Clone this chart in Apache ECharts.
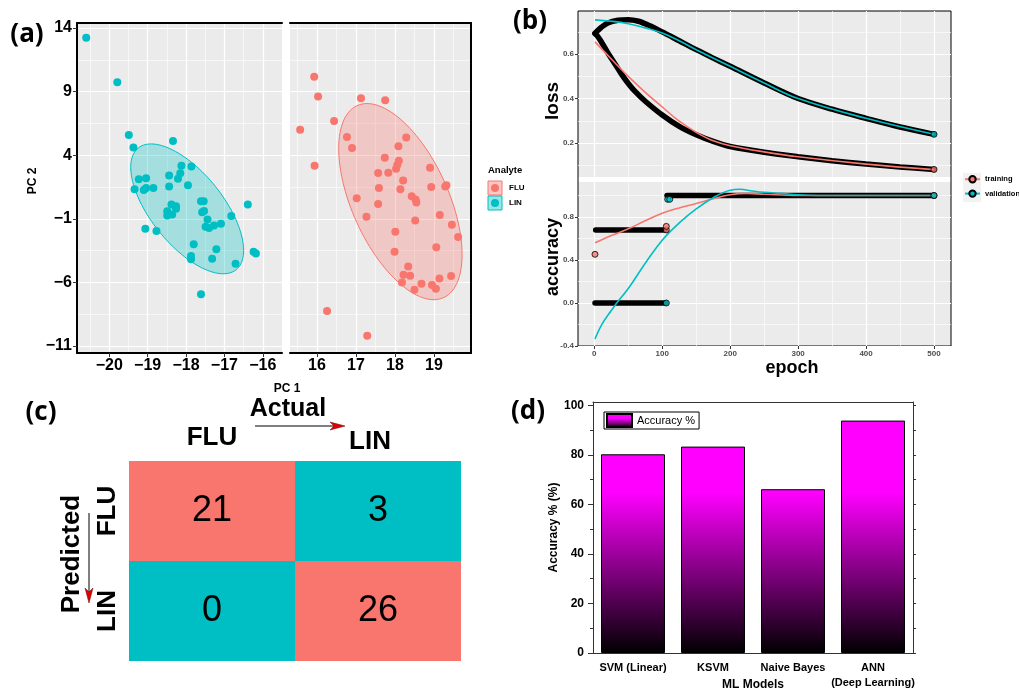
<!DOCTYPE html>
<html>
<head>
<meta charset="utf-8">
<script src="https://cdn.jsdelivr.net/npm/echarts@6/dist/echarts.min.js"></script>
<style>
html, body { margin: 0; padding: 0; background: #fff; }
#chart { width: 1019px; height: 689px; }
</style>
</head>
<body>
<div id="chart"></div>
<script>
// ---- (a) PCA scores ----
var linPoints = [[-20.6,13.24],[-19.79,9.73],[-19.49,5.59],[-19.37,4.6],[-18.34,5.12],[-19.23,2.1],
  [-19.04,2.18],[-19.34,1.32],[-19.1,1.27],[-19.04,1.42],[-18.85,1.42],[-18.44,2.41],[-18.44,1.53],
  [-18.12,3.17],[-18.15,2.57],[-18.21,2.15],[-17.86,3.11],[-17.95,1.63],[-18.38,0.12],[-18.26,-0.01],
  [-18.49,-0.4],[-18.49,-0.74],[-18.36,-0.66],[-18.26,-0.22],[-17.61,0.38],[-17.54,0.38],[-17.58,-0.48],
  [-17.53,-0.38],[-17.44,-1.05],[-17.49,-1.63],[-17.4,-1.73],[-17.27,-1.52],[-17.09,-1.39],[-16.82,-0.79],
  [-16.39,0.12],[-19.06,-1.78],[-18.77,-1.96],[-17.8,-3.0],[-17.87,-3.92],[-17.87,-4.18],[-17.21,-3.4],
  [-17.32,-4.15],[-16.71,-4.54],[-16.24,-3.6],[-16.18,-3.73],[-17.61,-6.94]];
var fluPoints = [[15.93,10.17],[16.03,8.61],[15.57,6.0],[15.94,3.17],[16.44,6.68],[17.13,8.48],[17.75,8.32],
  [16.77,5.43],[16.9,4.57],[18.29,5.38],[18.09,4.7],[17.74,3.79],[18.1,3.56],[18.06,3.22],[18.03,2.93],
  [17.57,2.59],[17.83,2.62],[18.21,2.0],[18.9,3.01],[17.59,1.42],[18.14,1.32],[18.93,1.5],[19.29,1.53],
  [19.32,1.63],[17.02,0.61],[17.57,0.17],[18.43,0.77],[18.53,0.51],[18.55,0.28],[17.27,-0.84],[18.52,-1.13],
  [19.15,-0.71],[19.46,-1.47],[18.01,-2.02],[19.62,-2.43],[19.06,-3.24],[17.99,-3.6],[18.34,-4.75],
  [18.22,-5.4],[18.39,-5.48],[19.44,-5.5],[19.14,-5.69],[18.18,-6.0],[18.68,-6.1],[18.95,-6.21],
  [19.05,-6.5],[18.5,-6.57],[16.26,-8.24],[17.29,-10.19]];
// ellipse: centre x, centre y, var x, var y, cov xy
var linEllipse = [-17.97, -0.22, 2.161, 26.05, -4.8];
var fluEllipse = [18.14, 0.35, 2.5, 59.42, -6.59];
var pc2Ticks = [-11, -6, -1, 4, 9, 14];
var pc2Minor = [-8.5, -3.5, 1.5, 6.5, 11.5];
var pc1LeftTicks = [-20, -19, -18, -17, -16];
var pc1LeftMinor = [-20.5, -19.5, -18.5, -17.5, -16.5];
var pc1RightTicks = [16, 17, 18, 19];
var pc1RightMinor = [15.5, 16.5, 17.5, 18.5, 19.5];

// ---- (b) training history ----
var lossTrainPts = [[1,0.693],[5,0.68],[10,0.657],[20,0.605],[30,0.558],[40,0.51],[50,0.468],[60,0.432],
  [75,0.388],[100,0.326],[125,0.275],[150,0.237],[175,0.207],[200,0.184],[250,0.158],[300,0.138],
  [350,0.12],[400,0.105],[450,0.092],[500,0.081]];
var lossValPts = [[1,0.693],[5,0.706],[10,0.72],[20,0.74],[35,0.752],[50,0.755],[65,0.748],[80,0.73],
  [100,0.7],[125,0.66],[150,0.62],[175,0.582],[200,0.545],[250,0.47],[300,0.4],[350,0.352],[400,0.311],
  [450,0.272],[500,0.239]];
var lossTrainSmooth = [[1,0.655],[25,0.578],[50,0.5],[75,0.428],[100,0.362],[125,0.298],[150,0.248],
  [175,0.21],[200,0.188],[250,0.16],[300,0.138],[400,0.105],[500,0.08]];
var lossValSmooth = [[1,0.754],[25,0.748],[50,0.737],[75,0.718],[100,0.695],[125,0.66],[150,0.62],
  [200,0.545],[250,0.47],[300,0.4],[400,0.311],[500,0.239]];
var lossTrainEnd = [[500,0.081]];
var lossValEnd = [[500,0.239]];
var accTrainLow = [[2,0.68],[105,0.68]];
var accValLow = [[1,0],[105,0]];
var accHigh = [[107,1],[500,1]];
var accTrainMarks = [[1,0.453],[106,0.68],[106,0.713],[500,1]];
var accValMarks = [[106,0],[108,0.965],[111,0.965],[500,1]];
var accTrainSmooth = [[1,0.56],[25,0.628],[50,0.69],[75,0.765],[100,0.835],[125,0.885],[150,0.925],
  [175,0.97],[200,1.008],[225,1.02],[250,1.012],[300,1.0],[400,1.0],[500,1.0]];
var accValSmooth = [[1,-0.335],[12,-0.19],[25,-0.07],[33,0],[50,0.135],[75,0.37],[100,0.585],[125,0.745],
  [150,0.875],[175,0.98],[200,1.05],[215,1.058],[230,1.045],[250,1.03],[275,1.02],[300,1.008],[350,1.0],[500,1.0]];
var epochTicks = [0, 100, 200, 300, 400, 500];
var epochMinor = [50, 150, 250, 350, 450];
var lossTicks = [0.2, 0.4, 0.6];
var lossMinor = [0.1, 0.3, 0.5, 0.7];
var accTicks = [-0.4, 0, 0.4, 0.8];
var accMinor = [-0.2, 0.2, 0.6, 1.0];

// ---- (c) confusion matrix ----
var cmActual = ['FLU', 'LIN'];
var cmPredicted = ['FLU', 'LIN'];
var cmCounts = [[21, 3], [0, 26]]; // rows: predicted, cols: actual

// ---- (d) model accuracy ----
var models = ['SVM (Linear)', 'KSVM', 'Naive Bayes', 'ANN\n(Deep Learning)'];
var accuracy = [80.2, 83.3, 66.1, 93.8];
var accPctTicks = [0, 20, 40, 60, 80, 100];
var accPctMinor = [10, 30, 50, 70, 90];
var accPctAll = [0, 10, 20, 30, 40, 50, 60, 70, 80, 90, 100];

var FONT = 'Liberation Sans, Arial, sans-serif';
var RED = '#F8766D', CYAN = '#00BFC4';
// axis indices of each panel (x and y share the same number)
var AX_A1 = 0, AX_A2 = 2, AX_LOSS = 4, AX_ACC = 6, AX_CM = 9, AX_BAR = 10;

function minus(v) { return v < 0 ? '\u2212' + Math.abs(v) : String(v); }

function valAxis(gi, pos, min, max, ticks, o) {
    o = o || {};
    return {
        type: 'value', gridIndex: gi, position: pos, min: min, max: max,
        axisLine: { show: !!o.line, onZero: false, lineStyle: { color: o.lineColor || '#000', width: o.lineWidth || 2 } },
        axisTick: { show: !!o.tick, customValues: ticks, length: o.tickLen || 4,
            lineStyle: { color: o.tickColor || '#333', width: o.tickWidth || 1 } },
        axisLabel: { show: !!o.label, customValues: ticks, margin: o.margin || 4, fontFamily: FONT,
            fontSize: o.fontSize || 16, fontWeight: 'bold', color: o.labelColor || '#000', formatter: o.formatter },
        splitLine: { show: !!o.split, lineStyle: { color: '#fff', width: o.splitWidth || 1.2 } },
        name: o.name, nameLocation: 'middle', nameGap: o.nameGap,
        nameTextStyle: { fontFamily: FONT, fontSize: 12, fontWeight: 'bold', color: '#000' }
    };
}

function ellipseSeries(name, e, color, fill, ax) {
    return {
        type: 'custom', name: name, xAxisIndex: ax, yAxisIndex: ax, z: 1, silent: true,
        data: [e],
        renderItem: function (params, api) {
            var l11 = Math.sqrt(e[2]), l21 = e[4] / l11, l22 = Math.sqrt(e[3] - l21 * l21);
            var pts = [];
            for (var i = 0; i < 120; i++) {
                var t = i / 120 * Math.PI * 2;
                pts.push(api.coord([e[0] + l11 * Math.cos(t), e[1] + l21 * Math.cos(t) + l22 * Math.sin(t)]));
            }
            return { type: 'polygon', shape: { points: pts }, style: { fill: fill, stroke: color, lineWidth: 1 } };
        }
    };
}

function blackLine(data, ax) {
    return { type: 'line', xAxisIndex: ax, yAxisIndex: ax, data: data, smooth: 0.3, showSymbol: false,
        silent: true, z: 2, lineStyle: { color: '#000', width: 5.5, cap: 'round' } };
}
function smoothLine(name, data, color, ax) {
    return { type: 'line', name: name, xAxisIndex: ax, yAxisIndex: ax, data: data, smooth: 0.4,
        showSymbol: false, symbol: 'circle', symbolSize: 5, silent: true, z: 3,
        itemStyle: { color: color, borderColor: '#000', borderWidth: 0.8 },
        lineStyle: { color: color, width: 1.6 } };
}
function marks(data, color, ax) {
    return { type: 'scatter', xAxisIndex: ax, yAxisIndex: ax, data: data, symbolSize: 6, silent: true, z: 4,
        itemStyle: { color: color, borderColor: '#000', borderWidth: 1 } };
}

function barGradient(v) {
    // magenta down to about 65 %, fading to black at 0
    var top = Math.max(0, (v - 65) / v);
    return new echarts.graphic.LinearGradient(0, 0, 0, 1, [
        { offset: 0, color: '#FF00FF' }, { offset: top, color: '#FF00FF' }, { offset: 1, color: '#000000' }]);
}

var cmData = [];
cmCounts.forEach(function (row, r) {
    row.forEach(function (n, c) { cmData.push([c, r, n]); });
});

var bLabel = { fontSize: 8, labelColor: '#4D4D4D', margin: 4 };
function merge(a, b) { var o = {}; for (var k in a) o[k] = a[k]; for (var j in b) o[j] = b[j]; return o; }
function gridBox(l, t, w, h, extra) {
    return merge({ left: l, top: t, width: w, height: h, outerBoundsMode: 'none', containLabel: false }, extra || {});
}
var greyPanel = { show: true, backgroundColor: '#EBEBEB', borderWidth: 0 };

var chart = echarts.init(document.getElementById('chart'));
var option = {
    animation: false,
    textStyle: { fontFamily: FONT },
    grid: [
        gridBox(77, 23, 205, 330, greyPanel),
        gridBox(290, 23, 181, 330, greyPanel),
        gridBox(578, 11, 373, 166, greyPanel),
        gridBox(578, 182, 373, 164, greyPanel),
        gridBox(578, 11, 373, 335, { show: true, backgroundColor: 'transparent', borderColor: '#000', borderWidth: 1 }),
        gridBox(129, 461, 332, 200),
        gridBox(593, 402, 320, 251)
    ],
    xAxis: [
        valAxis(0, 'bottom', -20.84, -15.5, pc1LeftTicks, { line: true, tick: true, label: true, split: true, margin: 5, formatter: minus }),
        valAxis(0, 'top', -20.84, -15.5, pc1LeftMinor, { line: true, split: true, splitWidth: 0.6 }),
        valAxis(1, 'bottom', 15.31, 19.95, pc1RightTicks, { line: true, tick: true, label: true, split: true, margin: 5, formatter: minus }),
        valAxis(1, 'top', 15.31, 19.95, pc1RightMinor, { line: true, split: true, splitWidth: 0.6 }),
        valAxis(2, 'bottom', -24, 525, epochTicks, { split: true }),
        valAxis(2, 'top', -24, 525, epochMinor, { split: true, splitWidth: 0.6 }),
        valAxis(3, 'bottom', -24, 525, epochTicks, merge(bLabel, { tick: true, label: true, split: true, tickLen: 3 })),
        valAxis(3, 'top', -24, 525, epochMinor, { split: true, splitWidth: 0.6 }),
        { type: 'value', gridIndex: 4, show: false, min: 0, max: 1 },
        { type: 'category', gridIndex: 5, position: 'top', data: cmActual,
            axisLine: { show: false }, axisTick: { show: false },
            axisLabel: { margin: 10, fontFamily: FONT, fontSize: 26, fontWeight: 'bold', color: '#000',
                formatter: function (v) { return v === 'LIN' ? '{l|' + v + '}' : v; },
                rich: { l: { fontFamily: FONT, fontSize: 26, fontWeight: 'bold', color: '#000', padding: [0, 16, -4, 0] } } } },
        { type: 'category', gridIndex: 6, position: 'bottom', data: models,
            axisLine: { onZero: false, lineStyle: { color: '#333', width: 1 } },
            axisTick: { alignWithLabel: true, length: 5, lineStyle: { color: '#333' } },
            axisLabel: { interval: 0, margin: 7, fontFamily: FONT, fontSize: 11, fontWeight: 'bold', color: '#000', lineHeight: 15 },
            name: 'ML Models', nameLocation: 'middle', nameGap: 26, nameMoveOverlap: false,
            nameTextStyle: { fontFamily: FONT, fontSize: 12, fontWeight: 'bold', color: '#000' } },
        { type: 'category', gridIndex: 6, position: 'top', data: models,
            axisLine: { onZero: false, lineStyle: { color: '#333', width: 1 } },
            axisTick: { interval: 0, length: 3, lineStyle: { color: '#333' } }, axisLabel: { show: false } },
        { type: 'category', gridIndex: 6, position: 'bottom', data: models,
            axisLine: { show: false, onZero: false },
            axisTick: { interval: 0, length: 3, lineStyle: { color: '#333' } }, axisLabel: { show: false } }
    ],
    yAxis: [
        valAxis(0, 'left', -11.55, 14.39, pc2Ticks, { line: true, tick: true, label: true, split: true, margin: 5, formatter: minus }),
        valAxis(0, 'right', -11.55, 14.39, pc2Minor, { split: true, splitWidth: 0.6 }),
        valAxis(1, 'left', -11.55, 14.39, pc2Ticks, { split: true }),
        valAxis(1, 'right', -11.55, 14.39, pc2Minor, { line: true, split: true, splitWidth: 0.6 }),
        valAxis(2, 'left', 0.047, 0.794, lossTicks, merge(bLabel, { tick: true, label: true, split: true, tickLen: 3,
            formatter: function (v) { return v.toFixed(1); } })),
        valAxis(2, 'right', 0.047, 0.794, lossMinor, { split: true, splitWidth: 0.6 }),
        valAxis(3, 'left', -0.4, 1.126, accTicks, merge(bLabel, { tick: true, label: true, split: true, tickLen: 3,
            formatter: function (v) { return v.toFixed(1); } })),
        valAxis(3, 'right', -0.4, 1.126, accMinor, { split: true, splitWidth: 0.6 }),
        { type: 'value', gridIndex: 4, show: false, min: 0, max: 1 },
        { type: 'category', gridIndex: 5, data: cmPredicted, inverse: true,
            axisLine: { show: false }, axisTick: { show: false },
            axisLabel: { rotate: 90, margin: 8, fontFamily: FONT, fontSize: 26, fontWeight: 'bold', color: '#000' } },
        valAxis(6, 'left', 0, 101.3, accPctTicks, { line: true, lineColor: '#333', lineWidth: 1, tick: true, label: true,
            tickLen: 5, fontSize: 12, margin: 9, name: 'Accuracy % (%)', nameGap: 30 }),
        valAxis(6, 'right', 0, 101.3, accPctAll, { line: true, lineColor: '#333', lineWidth: 1, tick: true, tickLen: 3 }),
        valAxis(6, 'left', 0, 101.3, accPctMinor, { tick: true, tickLen: 3 })
    ],
    legend: [
        { data: ['FLU', 'LIN'], orient: 'vertical', left: 491, top: 184, padding: 0, itemWidth: 8, itemHeight: 8, itemGap: 7,
            icon: 'circle', selectedMode: false,
            textStyle: { fontFamily: FONT, fontSize: 8, fontWeight: 'bold', color: '#000', padding: [0, 0, 0, 5] } },
        { data: ['training', 'validation'], orient: 'vertical', left: 964, top: 175, padding: 0, itemWidth: 15, itemHeight: 8,
            itemGap: 6, selectedMode: false,
            textStyle: { fontFamily: FONT, fontSize: 7.5, fontWeight: 'bold', color: '#000' } },
        { data: ['Accuracy %'], left: 604, top: 412, itemWidth: 25, itemHeight: 13, icon: 'rect',
            borderColor: '#000', borderWidth: 1, padding: [1, 4, 1, 2], selectedMode: false,
            textStyle: { fontFamily: FONT, fontSize: 11, color: '#000' } }
    ],
    series: [
        ellipseSeries('LIN ellipse', linEllipse, CYAN, 'rgba(0,191,196,0.3)', AX_A1),
        { type: 'scatter', name: 'LIN', xAxisIndex: AX_A1, yAxisIndex: AX_A1, data: linPoints, symbolSize: 8, z: 3,
            itemStyle: { color: CYAN, opacity: 1 } },
        ellipseSeries('FLU ellipse', fluEllipse, RED, 'rgba(248,118,109,0.3)', AX_A2),
        { type: 'scatter', name: 'FLU', xAxisIndex: AX_A2, yAxisIndex: AX_A2, data: fluPoints, symbolSize: 8, z: 3,
            itemStyle: { color: RED, opacity: 1 } },

        blackLine(lossTrainPts, AX_LOSS),
        blackLine(lossValPts, AX_LOSS),
        smoothLine('training', lossTrainSmooth, RED, AX_LOSS),
        smoothLine('validation', lossValSmooth, CYAN, AX_LOSS),
        marks(lossTrainEnd, RED, AX_LOSS),
        marks(lossValEnd, CYAN, AX_LOSS),

        blackLine(accTrainLow, AX_ACC),
        blackLine(accValLow, AX_ACC),
        blackLine(accHigh, AX_ACC),
        smoothLine('training', accTrainSmooth, RED, AX_ACC),
        smoothLine('validation', accValSmooth, CYAN, AX_ACC),
        marks(accTrainMarks, RED, AX_ACC),
        marks(accValMarks, CYAN, AX_ACC),

        { type: 'custom', xAxisIndex: AX_CM, yAxisIndex: AX_CM, data: cmData, silent: true,
            renderItem: function (params, api) {
                var c = api.coord([api.value(0), api.value(1)]);
                var s = api.size([1, 1]);
                var correct = api.value(0) === api.value(1);
                return { type: 'group', children: [
                    { type: 'rect', shape: { x: c[0] - s[0] / 2, y: c[1] - s[1] / 2, width: s[0], height: s[1] },
                        style: { fill: correct ? RED : CYAN } },
                    { type: 'text', x: c[0], y: c[1],
                        style: { text: String(api.value(2)), align: 'center', verticalAlign: 'middle',
                            font: '36px ' + FONT, fill: '#000' } }
                ] };
            } },

        { type: 'bar', name: 'Accuracy %', xAxisIndex: AX_BAR, yAxisIndex: AX_BAR, barWidth: '80%',
            itemStyle: { color: barGradient(100), borderColor: '#000', borderWidth: 1 },
            data: accuracy.map(function (v) { return { value: v, itemStyle: { color: barGradient(v) } }; }) }
    ],
    graphic: [
        { type: 'text', x: 27, y: 35, style: { text: '(a)', font: 'bold 26px Open Sans', fill: '#000', align: 'center', verticalAlign: 'middle' } },
        { type: 'text', x: 530, y: 22, style: { text: '(b)', font: 'bold 26px Open Sans', fill: '#000', align: 'center', verticalAlign: 'middle' } },
        { type: 'text', x: 41, y: 413, style: { text: '(c)', font: 'bold 26px Open Sans', fill: '#000', align: 'center', verticalAlign: 'middle' } },
        { type: 'text', x: 528, y: 412, style: { text: '(d)', font: 'bold 26px Open Sans', fill: '#000', align: 'center', verticalAlign: 'middle' } },
        { type: 'text', x: 33, y: 181, rotation: Math.PI / 2, style: { text: 'PC 2', font: 'bold 12px ' + FONT, fill: '#000', align: 'center', verticalAlign: 'middle' } },
        { type: 'text', x: 287, y: 389, style: { text: 'PC 1', font: 'bold 12px ' + FONT, fill: '#000', align: 'center', verticalAlign: 'middle' } },
        { type: 'text', x: 488, y: 170, style: { text: 'Analyte', font: 'bold 9.5px ' + FONT, fill: '#000', align: 'left', verticalAlign: 'middle' } },
        { type: 'rect', z: 1, shape: { x: 488, y: 181, width: 14, height: 14 }, style: { fill: 'rgba(248,118,109,0.4)', stroke: RED, lineWidth: 1 } },
        { type: 'rect', z: 1, shape: { x: 488, y: 196, width: 14, height: 14 }, style: { fill: 'rgba(0,191,196,0.4)', stroke: CYAN, lineWidth: 1 } },
        { type: 'rect', z: 1, shape: { x: 963, y: 173, width: 18, height: 29 }, style: { fill: '#F2F2F2' } },
        { type: 'text', x: 553, y: 101, rotation: Math.PI / 2, style: { text: 'loss', font: 'bold 19px ' + FONT, fill: '#000', align: 'center', verticalAlign: 'middle' } },
        { type: 'text', x: 553, y: 257, rotation: Math.PI / 2, style: { text: 'accuracy', font: 'bold 18px ' + FONT, fill: '#000', align: 'center', verticalAlign: 'middle' } },
        { type: 'text', x: 792, y: 368, style: { text: 'epoch', font: 'bold 18px ' + FONT, fill: '#000', align: 'center', verticalAlign: 'middle' } },
        { type: 'text', x: 288, y: 409, style: { text: 'Actual', font: 'bold 25px ' + FONT, fill: '#000', align: 'center', verticalAlign: 'middle' } },
        { type: 'text', x: 72, y: 554, rotation: Math.PI / 2, style: { text: 'Predicted', font: 'bold 26px ' + FONT, fill: '#000', align: 'center', verticalAlign: 'middle' } },
        { type: 'line', shape: { x1: 255, y1: 426, x2: 336, y2: 426 }, style: { stroke: '#000', lineWidth: 1 } },
        { type: 'polygon', shape: { points: [[345, 426], [330, 422], [334, 426], [330, 430]] }, style: { fill: '#E00000', stroke: '#600', lineWidth: 0.5 } },
        { type: 'line', shape: { x1: 89, y1: 513, x2: 89, y2: 594 }, style: { stroke: '#000', lineWidth: 1 } },
        { type: 'polygon', shape: { points: [[89, 603], [85, 588], [89, 592], [93, 588]] }, style: { fill: '#E00000', stroke: '#600', lineWidth: 0.5 } }
    ]
};
chart.setOption(option);
</script>
</body>
</html>
